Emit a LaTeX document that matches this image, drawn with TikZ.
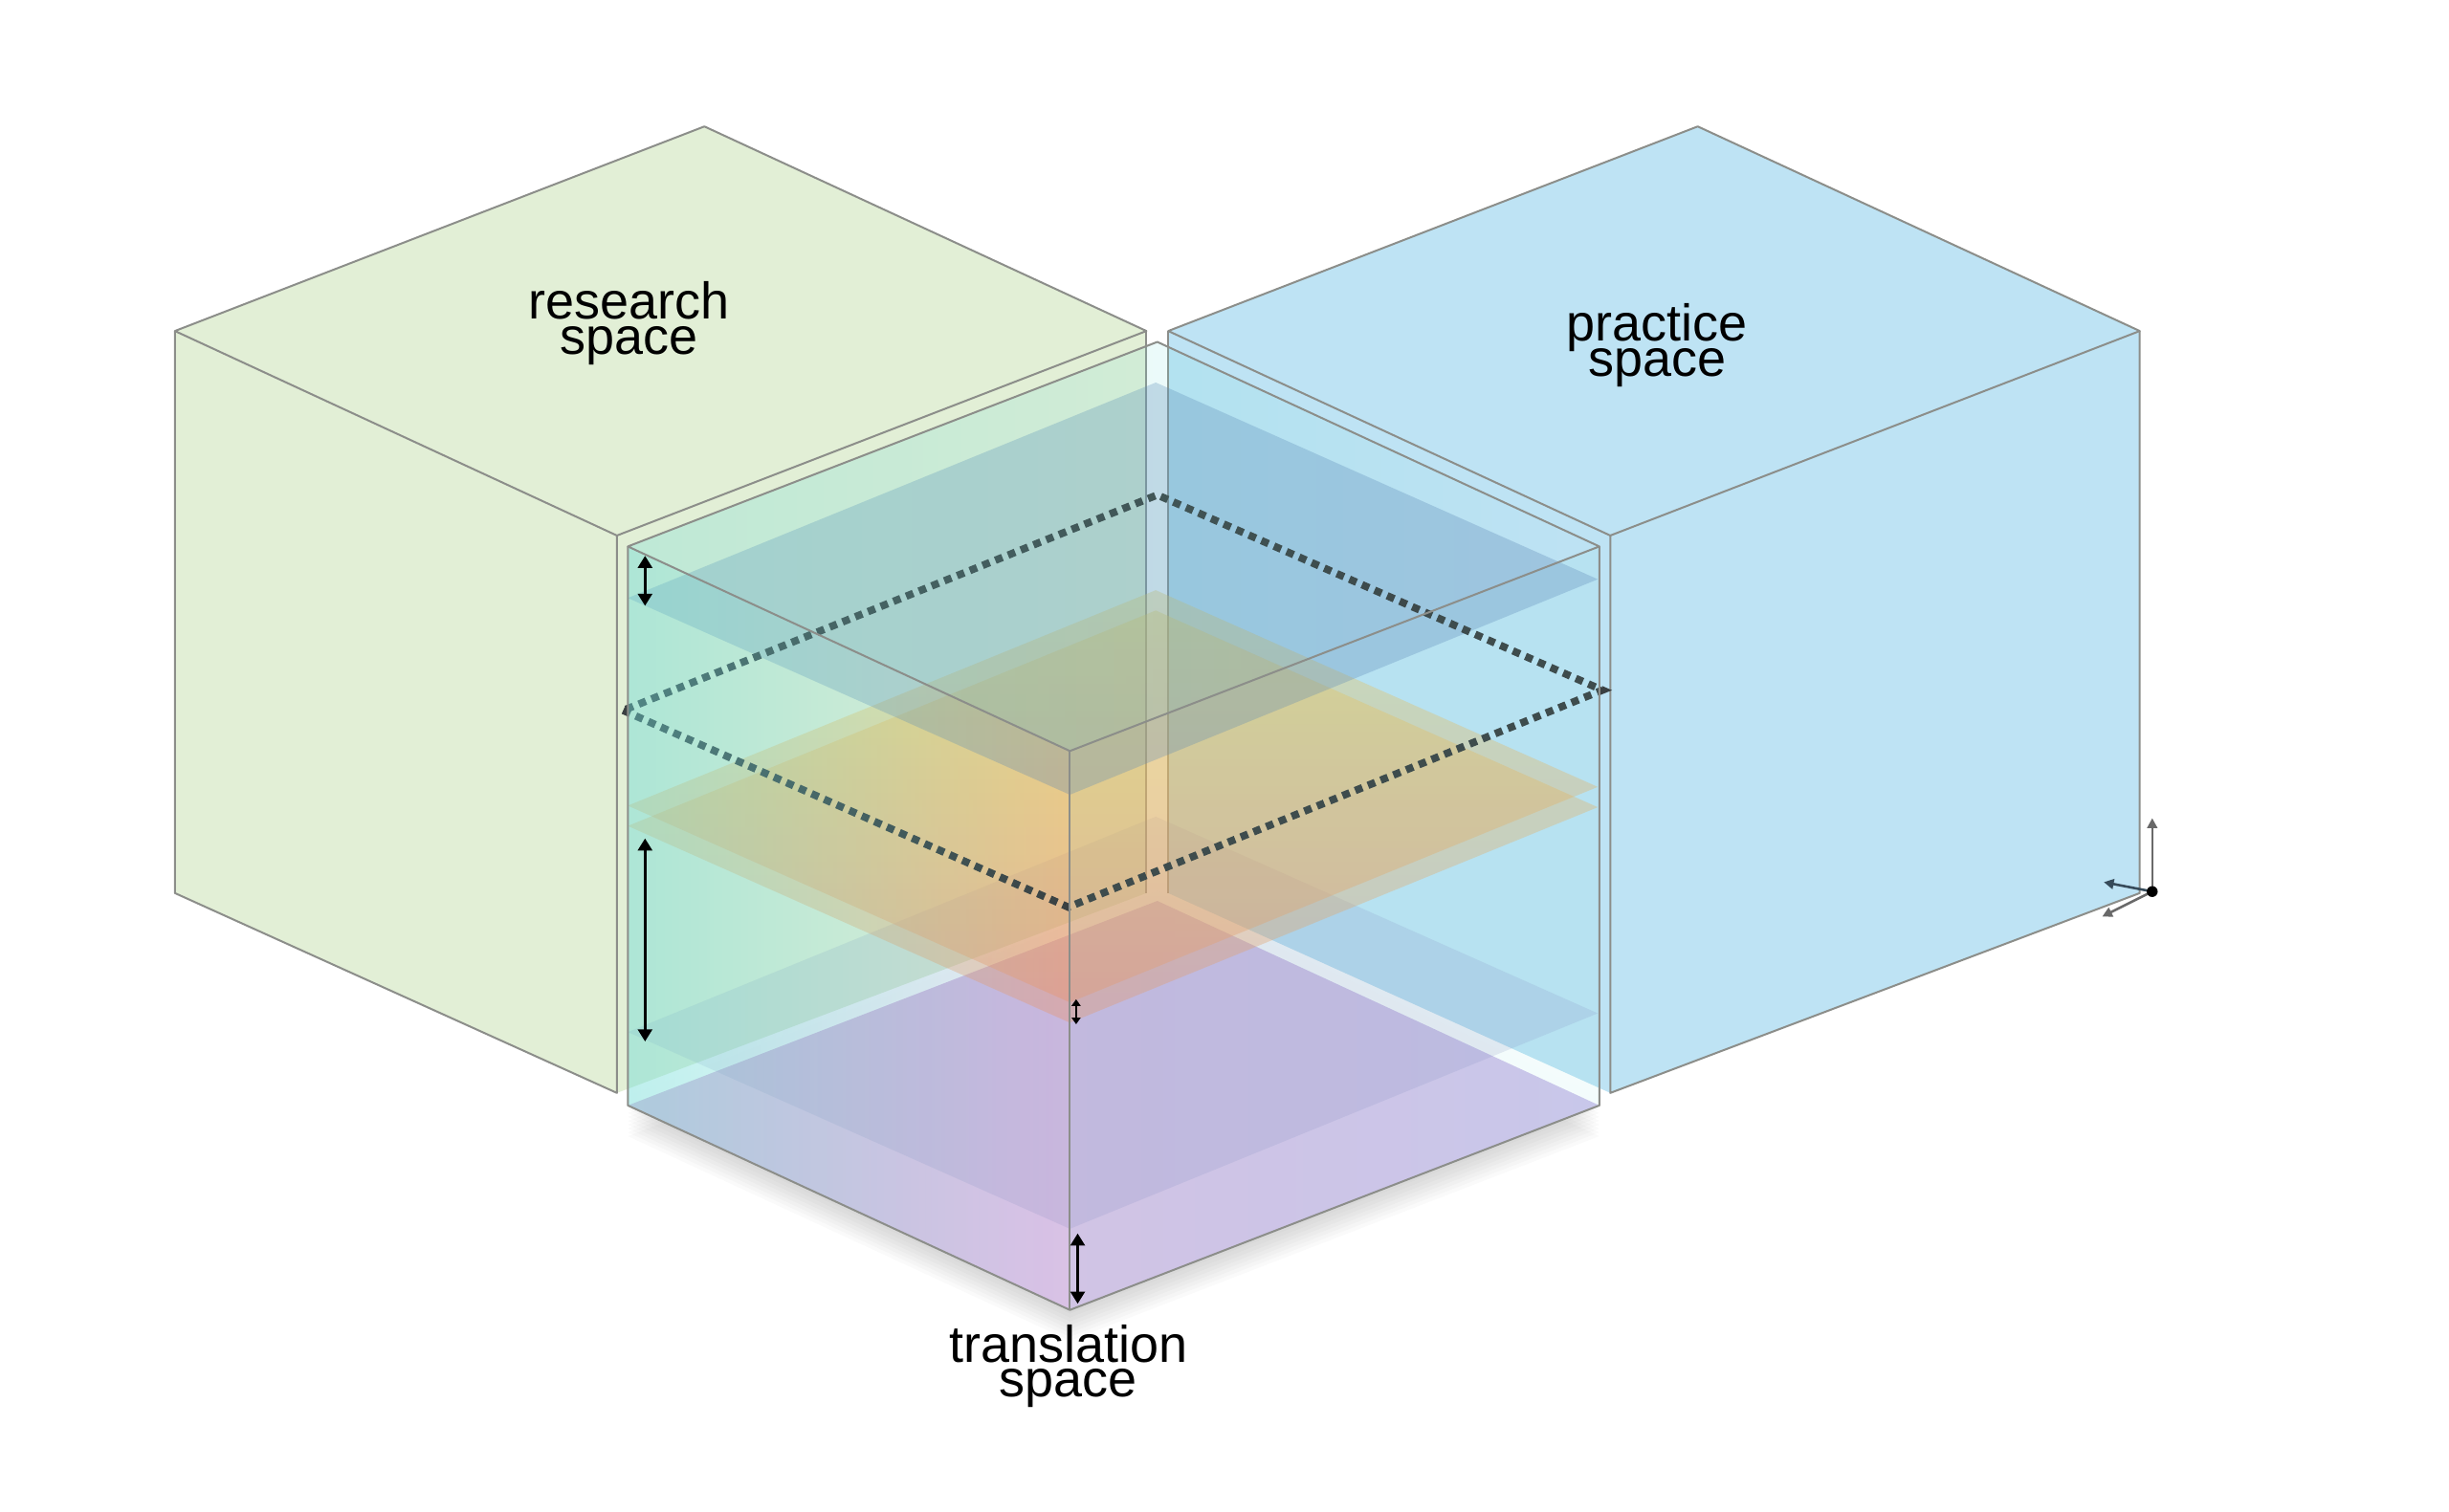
\documentclass[tikz,border=0pt]{standalone}
\usepackage{fontspec}
\setmainfont{Liberation Sans}
\usepackage{tikz}
\usetikzlibrary{arrows.meta,fadings}
\definecolor{vertcube}{RGB}{226,239,214}
\definecolor{bleucube}{RGB}{190,227,244}
\definecolor{arete}{RGB}{140,142,138}
\definecolor{cyanboite}{RGB}{110,220,215}
\definecolor{ardoise}{RGB}{90,130,180}
\definecolor{ardoisebas}{RGB}{125,130,185}
\definecolor{jaune}{RGB}{240,205,80}
\definecolor{orangeplan}{RGB}{238,145,100}
\definecolor{lavande}{RGB}{226,190,226}
\definecolor{lavandebleu}{RGB}{208,198,236}
\definecolor{traitpoint}{RGB}{58,64,66}
\definecolor{grisaxe}{RGB}{105,105,105}
\definecolor{ardoiseaxe}{RGB}{55,75,90}
\tikzfading[name=fondu, left color=transparent!0, right color=transparent!100]
\tikzstyle{bord}=[draw=arete, line width=0.35pt, line join=round]
\tikzstyle{plan}=[fill opacity=0.3]
\tikzstyle{fleche}=[{Triangle[length=2.2pt,width=2.6pt]}-{Triangle[length=2.2pt,width=2.6pt]}, line width=0.45pt]
\tikzstyle{petitefleche}=[{Triangle[length=1.2pt,width=1.6pt]}-{Triangle[length=1.2pt,width=1.6pt]}, line width=0.45pt]
\tikzstyle{axe}=[-{Triangle[length=1.8pt,width=1.8pt]}, line width=0.45pt]
\tikzstyle{pointille}=[draw=traitpoint, line width=1.35pt, dash pattern=on 1.4pt off 1.1pt]
\tikzstyle{etiquette}=[align=center, inner sep=0pt, font={\fontsize{9.4}{6.4}\selectfont\lineskiplimit=-5pt}]

\begin{document}
\begin{tikzpicture}[x=0.01cm, y=-0.01cm]
\useasboundingbox (0,0) rectangle (1568,968);

% coins
\coordinate (RL) at (112,212); \coordinate (RF) at (395,343); \coordinate (RR) at (734,212); \coordinate (RT) at (451,81);
\coordinate (RLb) at (112,572); \coordinate (RFb) at (395,700); \coordinate (RRb) at (734,572);
\coordinate (PL) at (748,212); \coordinate (PF) at (1031,343); \coordinate (PR) at (1370,212); \coordinate (PT) at (1087,81);
\coordinate (PLb) at (748,572); \coordinate (PFb) at (1031,700); \coordinate (PRb) at (1370,572);
\coordinate (TL) at (402,350); \coordinate (TF) at (685,481); \coordinate (TR) at (1024,350); \coordinate (TB) at (741,219);
\coordinate (TLb) at (402,708); \coordinate (TFb) at (685,839); \coordinate (TRb) at (1024,708); \coordinate (TBb) at (741,577);

% research
\fill[vertcube] (RL) -- (RT) -- (RR) -- (RRb) -- (RFb) -- (RLb) -- cycle;
\draw[bord] (RL) -- (RT) -- (RR) -- (RF) -- cycle;
\draw[bord] (RL) -- (RLb) -- (RFb) -- (RF);
\draw[bord] (RR) -- (RRb);

% practice
\fill[bleucube] (PL) -- (PT) -- (PR) -- (PRb) -- (PFb) -- (PLb) -- cycle;
\draw[bord] (PL) -- (PT) -- (PR) -- (PF) -- cycle;
\draw[bord] (PR) -- (PRb) -- (PFb) -- (PF);
\draw[bord] (PL) -- (PLb);

% ombre
\foreach \k in {1,...,8}
  \fill[black, fill opacity=0.02] ([yshift=-\k*0.7pt]TLb) -- ([yshift=-\k*0.7pt]TFb) -- ([yshift=-\k*0.7pt]TRb) -- ([yshift=-\k*0.7pt]TBb) -- cycle;

% fond de la boite
\shade[left color=lavande, right color=lavandebleu] (TLb) -- (TFb) -- (TRb) -- (TBb) -- cycle;
\draw[white, line width=1.4pt, opacity=0.5] ([yshift=1pt]TLb) -- ([yshift=1pt]TBb) -- ([yshift=1pt]TRb);

% niveaux
\coordinate (N3g) at (402,661); \coordinate (N3a) at (685,787); \coordinate (N3d) at (1023,649); \coordinate (N3r) at (740,523);
\coordinate (N2g) at (402,529); \coordinate (N2a) at (685,655); \coordinate (N2d) at (1023,517); \coordinate (N2r) at (740,391);
\coordinate (M2g) at (402,516); \coordinate (M2a) at (685,642); \coordinate (M2d) at (1023,504); \coordinate (M2r) at (740,378);
\coordinate (N1g) at (402,383); \coordinate (N1a) at (685,509); \coordinate (N1d) at (1023,371); \coordinate (N1r) at (740,245);
\fill[ardoisebas, fill opacity=0.17] (N3g) -- (N3a) -- (N3d) -- (N3r) -- cycle;
\shade[plan, fill opacity=0.36, top color=jaune, bottom color=orangeplan] (N2g) -- (N2a) -- (N2d) -- (N2r) -- cycle;
\shade[plan, fill opacity=0.36, top color=jaune, bottom color=orangeplan] (M2g) -- (M2a) -- (M2d) -- (M2r) -- cycle;
\fill[plan, ardoise] (N1g) -- (N1a) -- (N1d) -- (N1r) -- cycle;

% pointille
\coordinate (Dg) at (399,455); \coordinate (Da) at (684,581); \coordinate (Dd) at (1026,442); \coordinate (Dr) at (741,317);
\draw[pointille] (Dg) -- (Da) -- (Dd) -- (Dr) -- cycle;

% translation
\fill[cyanboite, fill opacity=0.45, path fading=fondu] (TL) -- (TF) -- (TFb) -- (TLb) -- cycle;
\fill[cyanboite, fill opacity=0.3, path fading=fondu] (TL) -- (TB) -- (TR) -- (TF) -- cycle;
\fill[cyanboite, fill opacity=0.08] (TF) -- (TR) -- (TRb) -- (TFb) -- cycle;
\draw[bord] (TL) -- (TB) -- (TR) -- (TF) -- cycle;
\draw[bord] (TL) -- (TLb) -- (TFb) -- (TRb) -- (TR);
\draw[bord] (TF) -- (TFb);

% ecarts
\coordinate (f1a) at (413,356); \coordinate (f1b) at (413,388);
\coordinate (f2a) at (413,537); \coordinate (f2b) at (413,667);
\coordinate (f3a) at (689,640); \coordinate (f3b) at (689,656);
\coordinate (f4a) at (690,790); \coordinate (f4b) at (690,835);
\draw[fleche] (f1a) -- (f1b);
\draw[fleche] (f2a) -- (f2b);
\draw[petitefleche] (f3a) -- (f3b);
\draw[fleche] (f4a) -- (f4b);

% axes
\coordinate (O) at (1378,571); \coordinate (Oz) at (1378,524); \coordinate (Ox) at (1347,565); \coordinate (Oy) at (1346,587);
\draw[axe, grisaxe] (O) -- (Oz);
\draw[axe, ardoiseaxe] (O) -- (Ox);
\draw[axe, grisaxe] (O) -- (Oy);
\fill (O) circle (3.5);

\node[etiquette] (recherche) at (403,207) {research\\space};
\node[etiquette] (pratique) at (1061,221) {practice\\space};
\node[etiquette] (traduction) at (684,875) {translation\\space};

\end{tikzpicture}
\end{document}
